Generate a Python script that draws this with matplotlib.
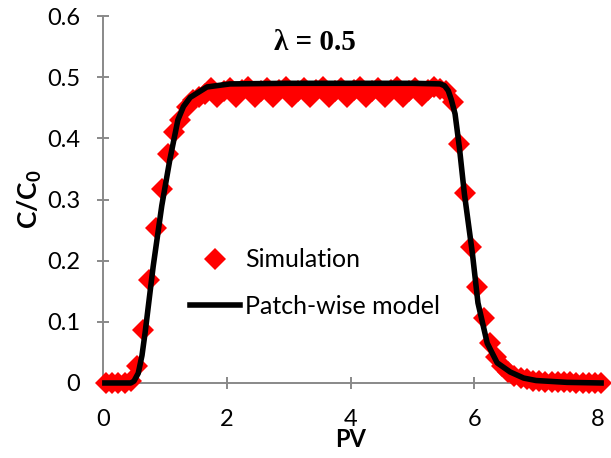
import numpy as np
import matplotlib
matplotlib.use("Agg")
import matplotlib.pyplot as plt

# Simulation points (PV, C/C0)
sim_pv = [0.05, 0.15, 0.25, 0.35, 0.45, 0.55, 0.65, 0.75, 0.85, 0.95,
          1.05, 1.15, 1.25, 1.35, 1.45, 1.55, 1.65, 1.75, 1.85, 1.95,
          2.05, 2.15, 2.25, 2.35, 2.45, 2.55, 2.65, 2.75, 2.85, 2.95,
          3.05, 3.15, 3.25, 3.35, 3.45, 3.55, 3.65, 3.75, 3.85, 3.95,
          4.05, 4.15, 4.25, 4.35, 4.45, 4.55, 4.65, 4.75, 4.85, 4.95,
          5.05, 5.15, 5.25, 5.35, 5.45, 5.55, 5.65, 5.75, 5.85, 5.95,
          6.05, 6.15, 6.25, 6.35, 6.45, 6.55, 6.65, 6.75, 6.85, 6.95,
          7.05, 7.15, 7.25, 7.35, 7.45, 7.55, 7.65, 7.75, 7.85, 7.95,
          8.05]
sim_c = [0.0, 0.0, 0.0, 0.0, 0.003, 0.028, 0.087, 0.168, 0.253, 0.317,
         0.374, 0.41, 0.43, 0.452, 0.462, 0.468, 0.472, 0.482, 0.467, 0.478,
         0.483, 0.468, 0.479, 0.484, 0.467, 0.478, 0.483, 0.468, 0.479, 0.484,
         0.467, 0.478, 0.483, 0.468, 0.479, 0.484, 0.467, 0.478, 0.483, 0.468,
         0.479, 0.484, 0.467, 0.478, 0.483, 0.468, 0.479, 0.484, 0.467, 0.478,
         0.483, 0.469, 0.479, 0.484, 0.48, 0.478, 0.459, 0.39, 0.31, 0.222,
         0.157, 0.106, 0.065, 0.042, 0.028, 0.018, 0.012, 0.008, 0.006, 0.004,
         0.003, 0.002, 0.002, 0.001, 0.001, 0.001, 0.0, 0.0, 0.0, 0.0,
         0.0]

# Patch-wise model curve
model_pv = [0.03, 0.3, 0.45, 0.5, 0.57, 0.63, 0.68, 0.81, 0.95, 1.08,
            1.21, 1.3, 1.41, 1.68, 2.05, 3.0, 4.0, 5.0, 5.45, 5.52,
            5.58, 5.63, 5.69, 5.76, 5.84, 5.97, 6.06, 6.21, 6.37, 6.58,
            6.8, 7.0, 7.5, 8.05]
model_c = [0.0, 0.0, 0.0, 0.003, 0.016, 0.045, 0.082, 0.19, 0.29, 0.365,
           0.43, 0.452, 0.467, 0.484, 0.489, 0.49, 0.49, 0.49, 0.489, 0.486,
           0.478, 0.463, 0.44, 0.385, 0.31, 0.212, 0.131, 0.065, 0.033, 0.018,
           0.008, 0.004, 0.001, 0.0]

x_ticks = [0, 2, 4, 6, 8]
y_ticks = [0, 0.1, 0.2, 0.3, 0.4, 0.5, 0.6]

plt.rcParams['font.family'] = ['Lato', 'DejaVu Sans']
plt.rcParams['mathtext.fontset'] = 'custom'
plt.rcParams['mathtext.rm'] = 'Lato'
plt.rcParams['mathtext.bf'] = 'Lato:bold'

axis_grey = '#898989'

fig = plt.figure(figsize=(6.11, 4.58), dpi=100)
ax = fig.add_axes([0.1686, 0.1638, 0.8101, 0.8012])

ax.plot(sim_pv, sim_c, linestyle='none', marker='D', markersize=11,
        color='#ff0000', markeredgewidth=0, label='Simulation',
        clip_on=False, zorder=3)
ax.plot(model_pv, model_c, color='black', linewidth=4,
        label='Patch-wise model', clip_on=False, zorder=4)

ax.set_xlim(0, 8)
ax.set_ylim(0, 0.6)
ax.set_xticks(x_ticks)
ax.set_yticks(y_ticks)
ax.set_xticklabels([str(t) for t in x_ticks])
ax.set_yticklabels(['0', '0.1', '0.2', '0.3', '0.4', '0.5', '0.6'])

for side in ['top', 'right']:
    ax.spines[side].set_visible(False)
for side in ['left', 'bottom']:
    ax.spines[side].set_color(axis_grey)
    ax.spines[side].set_linewidth(1.4)

ax.tick_params(axis='both', direction='inout', length=9, width=1.4,
               color=axis_grey, labelsize=17)
ax.tick_params(axis='x', pad=14)
ax.tick_params(axis='y', pad=12)

ax.set_xlabel('PV', fontsize=17, fontweight='bold', labelpad=-1)
ax.set_ylabel(r'$\mathbf{C/C_0}$', fontsize=19, labelpad=2)

ax.text(3.43, 0.556, 'λ = 0.5', fontsize=21, fontweight='bold',
        family=['Liberation Serif', 'DejaVu Serif'], ha='center', va='center')

ax.legend(loc='center left', bbox_to_anchor=(0.176, 0.272), frameon=False,
          fontsize=18, borderpad=0, borderaxespad=0, handlelength=2.0,
          handletextpad=0.2, labelspacing=0.95)

fig.savefig('out.png', dpi=100)
